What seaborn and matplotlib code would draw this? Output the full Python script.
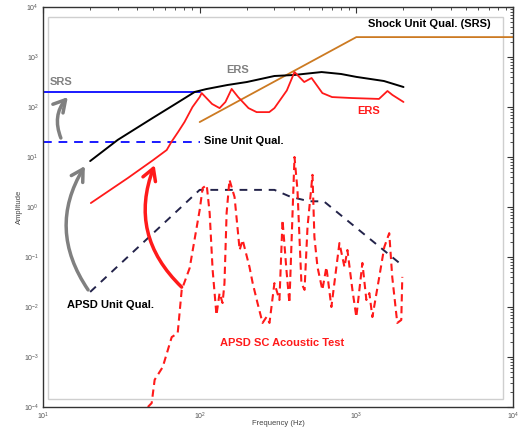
"""
Recreation of the unit-qualification vs environment chart (SRS / sine / APSD).
"""
import matplotlib
matplotlib.use("Agg")
import matplotlib.pyplot as plt
import numpy as np
import pandas as pd
import seaborn as sns
from matplotlib.patches import Rectangle
from matplotlib.ticker import LogLocator, NullFormatter

# ---- data -------------------------------------------------------------------

srs_freq = [10, 100]
srs_amp = [200, 200]

sine_freq = [10, 100]
sine_amp = [20, 20]

ers_env_freq = [20, 30, 50, 70, 93, 110, 150, 200, 300, 400, 600, 800, 1000, 1500, 2000]
ers_env_amp = [8.3, 22, 60, 115, 200, 228, 275, 316, 417, 437, 500, 457, 400, 331, 251]

ers_freq = [20.2, 34.8, 50, 61.6, 66, 73, 80, 90, 100, 103, 120, 134, 146, 160, 176,
            205, 231, 278, 300, 360, 403, 465, 518, 607, 700, 940, 1395, 1580,
            1700, 2000]
ers_amp = [1.2, 3.8, 8.5, 13.8, 20, 32, 50, 100, 158, 190, 115, 95, 126, 230, 158,
           95, 79, 79, 95, 214, 500, 316, 380, 190, 158, 151, 145, 209, 174, 126]

shock_freq = [100, 1000, 10000]
shock_amp = [50, 2500, 2500]

apsd_qual_freq = [20, 100, 300, 380, 500, 620, 2000]
apsd_qual_amp = [0.02, 2.2, 2.2, 1.6, 1.3, 1.3, 0.065]

apsd_test_freq = [46.7, 49.4, 51.6, 58.1, 66.3, 72.4, 76.8, 86.3, 100, 104.5, 110.9,
                  115.8, 121, 128, 134, 140, 144, 148.6, 155, 167, 180, 188, 208,
                  218, 234, 252, 267, 279, 300, 323, 338, 358, 374, 403, 421, 446,
                  467, 488, 525, 540, 565, 607, 644, 693, 746, 780, 840, 877, 944,
                  1000, 1093, 1159, 1211, 1266, 1401, 1508, 1622, 1695, 1825, 1936,
                  1965]
apsd_test_amp = [1e-4, 1.2e-4, 3.5e-4, 6.3e-4, 2.5e-3, 3.0e-3, 0.022, 0.060, 0.87,
                 2.4, 2.75, 0.76, 0.055, 0.0069, 0.019, 0.012, 0.030, 0.76, 3.5,
                 1.58, 0.138, 0.22, 0.063, 0.030, 0.012, 0.0048, 0.0063, 0.0048,
                 0.030, 0.0138, 0.55, 0.055, 0.012, 10, 2.19, 0.030, 0.022, 0.40,
                 4.4, 0.25, 0.063, 0.022, 0.063, 0.010, 0.063, 0.19, 0.063, 0.138,
                 0.022, 0.0063, 0.076, 0.0138, 0.019, 0.0063, 0.040, 0.158, 0.30,
                 0.040, 0.0048, 0.0055, 0.040]

OUT = "out.png"

sns.set_theme(style="white", context="notebook")
plt.rcParams["font.family"] = ["Liberation Sans", "DejaVu Sans"]

fig = plt.figure(figsize=(5.2, 4.32), dpi=100)
ax = fig.add_axes([43 / 520, 1 - 407 / 432, 470 / 520, 400 / 432])
ax.set_xscale("log"); ax.set_yscale("log")


def line(x, y, **kw):
    sns.lineplot(x=x, y=y, ax=ax, estimator=None, sort=False, **kw)


# inner light-grey frame
ax.add_patch(Rectangle((0.0106, 0.02), 0.968, 0.955, transform=ax.transAxes,
                       fill=False, ec="#cfcfcf", lw=1.0, zorder=0))

line(srs_freq, srs_amp, color="#1a1aff", lw=1.4)
line(sine_freq, sine_amp, color="#1a1aff", lw=1.4, linestyle=(0, (4.5, 3.5)))
line(shock_freq, shock_amp, color="#cc7a22", lw=1.3)
line(ers_env_freq, ers_env_amp, color="black", lw=1.4)
line(ers_freq, ers_amp, color="#ff1a1a", lw=1.3)
line(apsd_qual_freq, apsd_qual_amp, color="#23234a", lw=1.4, linestyle=(0, (4, 3.5)))
line(apsd_test_freq, apsd_test_amp, color="#ff1a1a", lw=1.5, linestyle=(0, (3.5, 2.2)))

ax.set_xlim(10, 1e4)
ax.set_ylim(1e-4, 1e4)

# ---- curved arrows ----------------------------------------------------------
arrow_kw = dict(arrowstyle="->,head_length=0.7,head_width=0.4", lw=2.5,
                shrinkA=0, shrinkB=0)
ax.annotate("", xy=(18.5, 6.6), xytext=(19.4, 0.022),
            arrowprops=dict(color="#808080", connectionstyle="arc3,rad=-0.32", **arrow_kw))
ax.annotate("", xy=(14.4, 158), xytext=(13.0, 24),
            arrowprops=dict(color="#808080", connectionstyle="arc3,rad=-0.3", **arrow_kw))
ax.annotate("", xy=(51.6, 6.9), xytext=(76.7, 0.025),
            arrowprops=dict(color="#ff1a1a", connectionstyle="arc3,rad=-0.33", **arrow_kw))

# ---- labels -----------------------------------------------------------------
txt = dict(fontsize=8, fontweight="bold", va="center", ha="left")
ax.text(11.1, 316, "SRS", color="#808080", **txt)
ax.text(148, 550, "ERS", color="#808080", **txt)
ax.text(1014, 83, "ERS", color="#ff1a1a", **txt)
ax.text(106, 21, "Sine Unit Qual.", color="black", **txt)
ax.text(1192, 4570, "Shock Unit Qual. (SRS)", color="black", **txt)
ax.text(14.2, 0.011, "APSD Unit Qual.", color="black", **txt)
ax.text(134, 0.0019, "APSD SC Acoustic Test", color="#ff1a1a", **txt)

ax.set_xlabel("Frequency (Hz)", fontsize=5.5, color="#444444")
ax.set_ylabel("Amplitude", fontsize=5.5, color="#444444")
ax.xaxis.set_label_coords(0.5, -0.033)
ax.yaxis.set_label_coords(-0.043, 0.5)

# ---- ticks / spines ---------------------------------------------------------
for axis in (ax.xaxis, ax.yaxis):
    axis.set_major_locator(LogLocator(base=10, numticks=20))
    axis.set_minor_locator(LogLocator(base=10, subs=np.arange(2, 10), numticks=100))
    axis.set_minor_formatter(NullFormatter())
ax.tick_params(which="both", direction="in", top=True, right=True,
               color="#333333", labelsize=5, labelcolor="#555555", pad=3)
ax.tick_params(which="major", length=4, width=0.8)
ax.tick_params(which="minor", length=2, width=0.6)
for s in ax.spines.values():
    s.set_color("#333333"); s.set_linewidth(1.0)

fig.savefig(OUT, dpi=100)
